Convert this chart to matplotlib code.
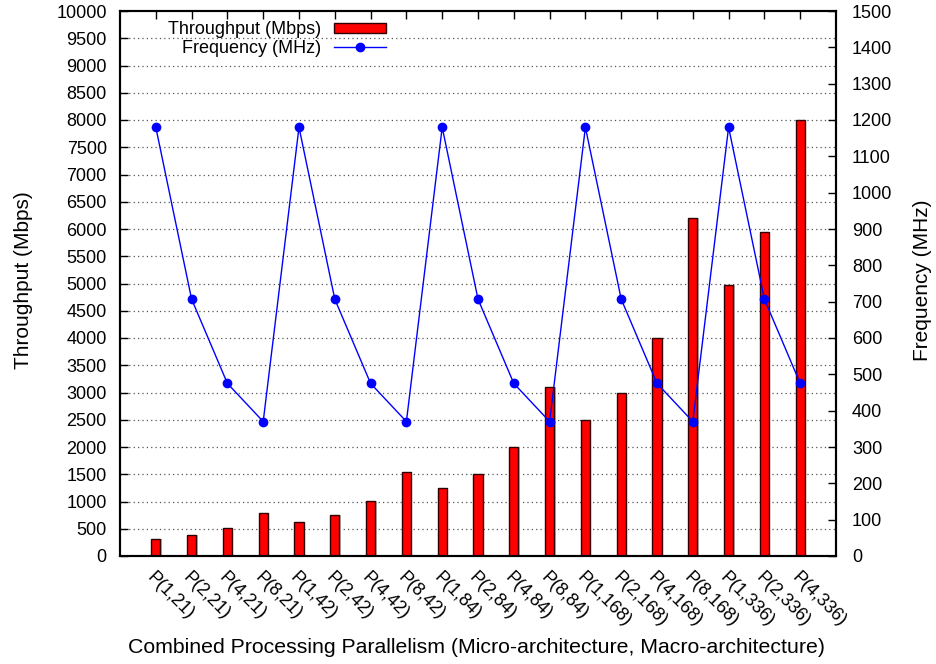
import matplotlib
matplotlib.use("Agg")
import matplotlib.pyplot as plt
from matplotlib.patches import Patch
from matplotlib.lines import Line2D
import numpy as np

plt.rcParams['font.family'] = ['Liberation Sans', 'DejaVu Sans']

configs = ["P(1,21)", "P(2,21)", "P(4,21)", "P(8,21)",
           "P(1,42)", "P(2,42)", "P(4,42)", "P(8,42)",
           "P(1,84)", "P(2,84)", "P(4,84)", "P(8,84)",
           "P(1,168)", "P(2,168)", "P(4,168)", "P(8,168)",
           "P(1,336)", "P(2,336)", "P(4,336)"]
throughput = [320, 385, 505, 780, 620, 750, 1005, 1550, 1240, 1500,
              2000, 3110, 2495, 2985, 3995, 6205, 4970, 5940, 8000]
frequency = [1180, 707, 475, 370, 1180, 707, 475, 370, 1180, 707,
             475, 370, 1180, 707, 475, 370, 1180, 707, 475]

fig = plt.figure(figsize=(9.36, 6.64), dpi=100)
ax = fig.add_axes([120/936, 1 - 556/664, 716/936, 545/664])
ax2 = ax.twinx()

x = np.arange(len(configs))

# horizontal dotted grid on the throughput ticks
for v in range(500, 10000, 500):
    ax.axhline(v, color='#555555', linestyle=(0, (1, 2.5)), linewidth=0.9, zorder=0)

# faint shadow, then the bars
ax.bar(x + 0.04, throughput, width=0.26, color='#bbbbbb', zorder=1)
ax.bar(x, throughput, width=0.26, color='#ff0000', edgecolor='#300000',
       linewidth=1.0, zorder=2)

ax2.plot(x, frequency, color='#0000ff', linewidth=1.0, marker='o',
         markersize=6, zorder=3)

ax.set_xlim(-1, 19)
ax.set_ylim(0, 10000)
ax2.set_ylim(0, 1500)
ax.set_yticks(range(0, 10001, 500))
ax2.set_yticks(range(0, 1501, 100))
ax.set_xticks(x)
ax.set_xticklabels(configs, rotation=-45, ha='left', va='top',
                   rotation_mode='anchor', fontsize=13)

ax.tick_params(axis='y', direction='in', length=6, width=1, labelsize=13, pad=9.5,
               right=False)
ax.tick_params(axis='x', direction='in', length=6, width=1, top=True, pad=9)
ax2.tick_params(axis='y', direction='in', length=6, width=1, labelsize=13, pad=11.5)

for a in (ax, ax2):
    for s in a.spines.values():
        s.set_linewidth(1.5)

ax.set_ylabel("Throughput (Mbps)", fontsize=15)
ax2.set_ylabel("Frequency (MHz)", fontsize=15)
ax.set_xlabel("Combined Processing Parallelism (Micro-architecture, Macro-architecture)",
              fontsize=15.3)
ax.yaxis.set_label_coords(-0.121, 0.506)
ax2.yaxis.set_label_coords(1.1075, 0.506)
ax.xaxis.set_label_coords(0.4986, -0.151)

ax.set_zorder(ax2.get_zorder() - 1)
ax.patch.set_visible(True)
ax2.patch.set_visible(False)

handles = [Patch(facecolor='#ff0000', edgecolor='#300000', linewidth=1.0),
           Line2D([], [], color='#0000ff', linewidth=1.0, marker='o', markersize=6)]
labels = ["Throughput (Mbps)", "Frequency (MHz)"]
ax2.legend(handles, labels, loc='upper right', bbox_to_anchor=(0.372, 0.981),
           frameon=False, markerfirst=False, borderaxespad=0, borderpad=0,
           handlelength=2.9, handletextpad=0.7, labelspacing=0.08, fontsize=13,
           handleheight=0.5)

fig.savefig("out.png", dpi=100)
